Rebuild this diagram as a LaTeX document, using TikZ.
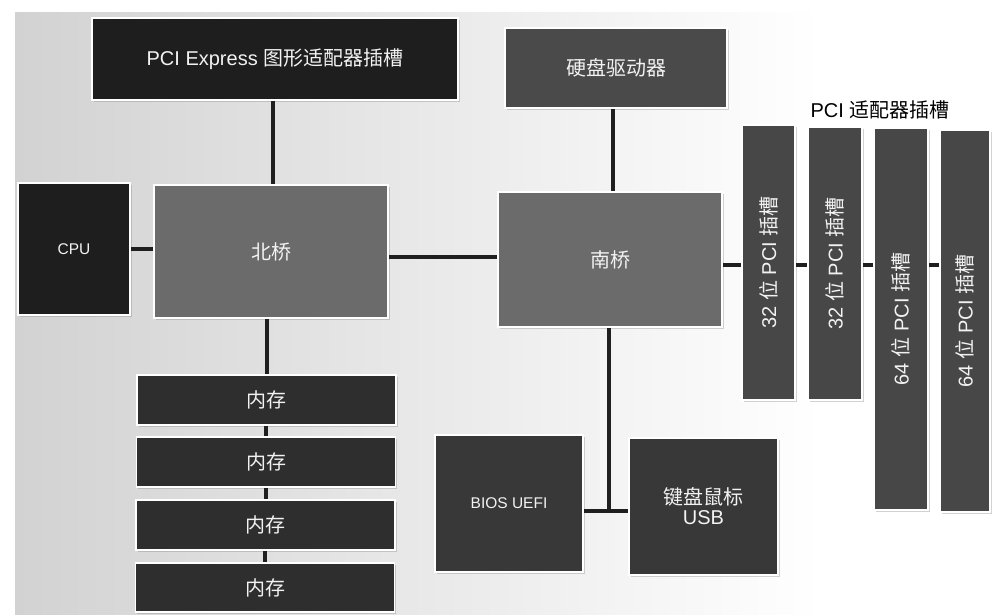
\documentclass[tikz,border=0pt]{standalone}
\usepackage{fontspec}
\usepackage{graphicx}
\setmainfont{Liberation Sans}
\newfontfamily\cjk{Noto Sans CJK SC}
\usetikzlibrary{shadows}
\definecolor{bgL}{HTML}{D2D2D2}
\definecolor{cBlack}{HTML}{1E1E1E}
\definecolor{cBridge}{HTML}{6B6B6B}
\definecolor{cHdd}{HTML}{4A4A4A}
\definecolor{cMem}{HTML}{2E2E2E}
\definecolor{cSlot}{HTML}{474747}
\definecolor{cIO}{HTML}{383838}
\definecolor{txt}{HTML}{F2F2F2}
\begin{document}
\begin{tikzpicture}[x=1pt,y=-1pt,
  blk/.style={draw=white, line width=1.6pt, text=txt, inner sep=0pt, align=center,
    drop shadow={opacity=0.35, shadow xshift=1.5pt, shadow yshift=-2pt}},
  big/.style={font=\fontsize{20}{23}\selectfont},
  small/.style={font=\fontsize{15.5}{18}\selectfont},
  wire/.style={line width=3.5pt, black!88},
  slotbox/.style={blk, fill=cSlot, font=\fontsize{20}{23}\selectfont}]
\useasboundingbox (0,0) rectangle (992,614);
\fill[white] (0,0) rectangle (992,614);
\shade[left color=bgL, right color=white] (15,12) rectangle (820,614);

% nodes
\node[blk, big, fill=cBlack, minimum width=366pt, minimum height=82pt] (pcie) at (275,59) {PCI Express {\cjk 图形适配器插槽}};
\node[blk, big, fill=cHdd, minimum width=222pt, minimum height=80pt] (hdd) at (616,68) {\cjk 硬盘驱动器};
\node[blk, small, fill=cBlack, minimum width=112pt, minimum height=132pt] (cpu) at (74,249) {CPU};
\node[blk, big, fill=cBridge, minimum width=234pt, minimum height=133pt] (nb) at (271,251.5) {\cjk 北桥};
\node[blk, big, fill=cBridge, minimum width=224pt, minimum height=135pt] (sb) at (610,259.5) {\cjk 南桥};

\node[font=\fontsize{20}{23}\selectfont, text=black] (pcilbl) at (880,110) {PCI {\cjk 适配器插槽}};
\node[slotbox, minimum width=53pt, minimum height=275pt] (s1) at (768.5,262.5) {\rotatebox{90}{32 {\cjk 位} PCI {\cjk 插槽}}};
\node[slotbox, minimum width=54pt, minimum height=273pt] (s2) at (835,263.5) {\rotatebox{90}{32 {\cjk 位} PCI {\cjk 插槽}}};
\node[slotbox, minimum width=54pt, minimum height=382pt] (s3) at (901,319) {\rotatebox{90}{64 {\cjk 位} PCI {\cjk 插槽}}};
\node[slotbox, minimum width=50pt, minimum height=382pt] (s4) at (965,321) {\rotatebox{90}{64 {\cjk 位} PCI {\cjk 插槽}}};

\node[blk, big, fill=cMem, minimum width=259pt, minimum height=50pt] (m1) at (266.5,400) {\cjk 内存};
\node[blk, big, fill=cMem, minimum width=259pt, minimum height=50pt] (m2) at (266,462) {\cjk 内存};
\node[blk, big, fill=cMem, minimum width=259pt, minimum height=50pt] (m3) at (265.5,525) {\cjk 内存};
\node[blk, big, fill=cMem, minimum width=259pt, minimum height=49pt] (m4) at (265,587.5) {\cjk 内存};

\node[blk, small, fill=cIO, minimum width=148pt, minimum height=137pt] (bios) at (509,503.5) {BIOS UEFI};
\node[blk, big, fill=cIO, minimum width=149pt, minimum height=137pt] (usb) at (703.5,506.5) {{\cjk 键盘鼠标}\\[-3pt]USB};

% helper coordinates
\coordinate (nsy) at (0,257);
\coordinate (busy) at (0,265);
\coordinate (j) at (609,511);

% connectors
\draw[wire] (pcie.south -| 273,0) -- (nb.north -| 273,0);
\draw[wire] (cpu.east) -- (cpu.east -| nb.west);
\draw[wire] (nb.east |- nsy) -- (sb.west |- nsy);
\draw[wire] (hdd.south -| 613,0) -- (sb.north -| 613,0);
\draw[wire] (nb.south -| 267,0) -- (m1.north -| 267,0);
\draw[wire] (m1.south -| 266,0) -- (m2.north -| 266,0);
\draw[wire] (m2.south -| 266,0) -- (m3.north -| 266,0);
\draw[wire] (m3.south -| 265,0) -- (m4.north -| 265,0);
\draw[wire] (sb.south -| j) -- (j);
\draw[wire] (bios.east |- j) -- (usb.west |- j);
\draw[wire] (sb.east |- busy) -- (s1.west |- busy);
\draw[wire] (s1.east |- busy) -- (s2.west |- busy);
\draw[wire] (s2.east |- busy) -- (s3.west |- busy);
\draw[wire] (s3.east |- busy) -- (s4.west |- busy);
\end{tikzpicture}
\end{document}
